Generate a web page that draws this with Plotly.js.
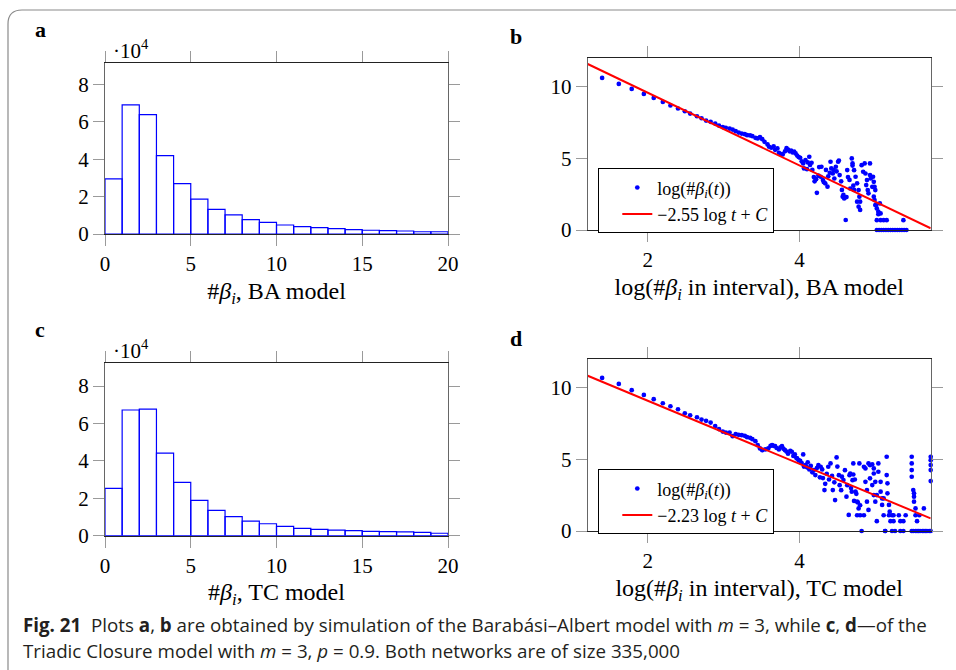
<!DOCTYPE html>
<html>
<head>
<meta charset="utf-8">
<script src="https://cdn.plot.ly/plotly-3.0.1.min.js"></script>
<style>
html,body{margin:0;padding:0;background:#fff;}
#chart{width:956px;height:670px;}
</style>
</head>
<body>
<div id="chart"></div>
<script>
// ---------- Data ----------
// Histogram bins (#beta_i values 0..19), counts in units of 10^4
const betaBins = [0,1,2,3,4,5,6,7,8,9,10,11,12,13,14,15,16,17,18,19];
const baCounts = [2.95,6.90,6.38,4.19,2.69,1.87,1.32,1.02,0.77,0.62,0.48,0.39,0.34,0.29,0.23,0.20,0.18,0.16,0.12,0.12];
const tcCounts = [2.53,6.72,6.77,4.42,2.85,1.89,1.35,1.02,0.78,0.64,0.50,0.39,0.34,0.30,0.27,0.23,0.22,0.20,0.18,0.13];

// Panel b: log(#beta_i in interval) vs log(#beta_i(t)), BA model
const baLogX = [
 1.40,1.62,1.79,1.95,2.08,2.20,2.30,2.40,2.49,2.56,2.65,2.71,2.77,2.83,2.89,2.94,2.99,3.03,3.08,3.12,
 3.16,3.20,3.24,3.28,3.31,3.35,3.38,3.42,3.45,3.48,3.51,3.54,3.58,
 3.60,3.63,3.66,3.68,3.71,3.73,3.76,3.78,3.81,3.83,3.85,3.87,3.89,3.91,3.93,3.95,3.97,3.99,
 4.01,4.03,4.05,4.06,4.08,4.10,4.11,4.13,4.14,4.16,4.17,4.19,4.20,4.22,4.23,4.25,4.26,4.28,4.29,
 4.31,4.32,4.34,4.35,4.37,4.38,4.40,4.41,4.42,4.44,4.45,4.46,4.48,4.49,4.51,4.52,4.53,4.55,4.56,
 4.57,4.58,4.59,4.61,4.62,4.63,4.64,4.66,4.67,4.69,4.70,4.71,4.72,
 4.70,4.72,4.74,4.76,4.78,4.76,4.78,4.80,4.80,4.79,4.82,4.86,4.84,4.87,4.88,4.89,4.90,4.91,4.93,4.93,
 4.94,4.96,4.97,4.98,4.99,5.00,4.98,4.99,5.00,5.01,5.02,5.04,5.04,5.06,5.07,
 5.02,5.07,5.11,5.15,5.37,
 5.02,5.05,5.08,5.11,5.14,5.17,5.20,5.23,5.26,5.29,5.32,5.35,5.38,5.41
];
const baLogY = [
 10.63,10.21,9.86,9.51,9.23,8.95,8.70,8.49,8.30,8.14,7.95,7.81,7.65,7.56,7.44,7.30,7.19,7.14,7.09,7.02,
 6.91,6.81,6.74,6.70,6.63,6.61,6.56,6.44,6.40,6.49,6.35,6.16,5.98,
 5.82,5.75,5.85,5.60,5.70,5.40,5.30,5.28,5.50,5.72,5.62,5.50,5.55,5.42,5.48,5.35,5.20,5.10,
 5.05,4.80,4.65,4.30,4.88,4.25,4.72,5.12,4.55,4.70,4.20,3.70,3.40,3.55,2.60,3.80,4.40,3.72,4.42,
 3.49,3.35,3.26,4.20,3.03,3.75,4.00,4.77,4.30,3.95,4.20,3.60,4.42,4.10,4.77,4.85,3.84,3.40,2.80,
 2.33,2.45,2.20,0.70,2.30,4.19,3.70,3.50,2.90,5.00,4.50,3.10,2.80,
 4.65,4.18,3.72,3.26,2.79,1.98,1.63,1.40,1.98,2.33,4.53,4.65,4.07,3.95,3.14,3.49,2.79,2.56,4.65,3.84,
 3.60,3.02,3.72,3.37,3.02,2.79,2.33,2.09,1.74,1.74,1.51,1.28,1.10,1.86,1.16,
 0.69,0.69,0.69,0.69,0.69,
 0,0,0,0,0,0,0,0,0,0,0,0,0,0
];
const baFitX = [1.21, 5.73];
const baFitY = [11.60, 0.12];

// Panel d: TC model
const tcLogX = [
 1.40,1.62,1.79,1.95,2.08,2.20,2.30,2.40,2.49,2.56,2.65,2.71,2.77,2.83,2.89,2.94,2.99,3.03,3.08,3.12,
 3.16,3.20,3.24,3.28,3.31,3.35,3.38,3.42,3.45,3.48,
 3.51,3.55,3.59,3.62,3.64,3.66,3.68,3.70,3.73,3.75,3.77,3.79,3.81,3.83,3.85,3.88,3.90,3.92,3.94,3.96,
 3.97,3.99,4.01,4.03,4.05,4.06,4.08,4.10,4.11,4.13,4.15,4.17,4.19,4.21,4.23,4.25,4.27,4.28,4.30,4.31,
 4.33,4.34,4.36,4.38,4.39,4.41,4.43,4.44,4.46,4.47,4.49,4.50,4.52,4.53,4.55,4.56,4.58,4.60,4.62,4.63,
 4.65,4.66,4.68,4.70,4.72,4.73,4.75,4.77,4.79,4.80,
 4.71,4.67,4.71,4.69,4.74,4.76,4.78,4.76,4.80,4.85,4.82,4.85,4.87,4.87,4.89,4.89,4.91,4.91,4.93,4.96,
 4.93,4.96,4.98,4.98,4.98,5.00,5.00,5.02,5.02,5.04,5.04,5.07,5.07,5.09,5.09,5.11,5.11,5.13,
 5.15,5.15,5.16,5.16,5.18,5.19,5.18,5.22,5.24,5.20,5.24,5.13,5.22,5.26,5.31,5.33,5.33,5.37,5.40,5.37,
 5.48,5.48,5.48,5.48,5.50,5.51,5.51,5.51,5.53,5.53,5.55,
 5.48,5.50,5.53,5.55,5.57,5.59,5.62,5.64,5.66,5.68,5.71,5.73,
 5.64,5.58,5.73,5.73,5.73,5.73,5.73
];
const tcLogY = [
 10.70,10.28,9.84,9.51,9.21,8.93,8.72,8.51,8.23,8.09,7.95,7.79,7.70,7.58,7.33,7.12,6.95,6.88,6.88,6.63,
 6.77,6.72,6.70,6.65,6.56,6.51,6.42,6.28,6.00,5.77,
 5.65,5.70,5.77,5.95,6.00,5.95,5.93,5.80,5.70,5.85,5.93,5.75,5.65,5.55,5.40,5.60,5.54,5.25,5.35,5.10,
 5.07,4.95,4.90,4.75,5.35,4.50,4.60,4.45,4.80,4.30,4.55,4.10,4.26,3.91,4.40,4.60,3.75,4.49,4.30,3.70,
 2.86,3.30,4.00,4.49,3.60,4.72,3.85,2.86,3.40,2.16,5.14,4.50,3.90,3.20,2.85,3.80,3.56,4.25,2.40,3.20,
 1.12,3.90,3.00,3.55,2.10,3.60,2.60,2.00,4.72,1.80,
 4.72,4.02,3.95,2.75,2.75,2.05,1.58,1.10,1.10,1.10,0,4.49,4.37,3.44,2.86,2.05,1.47,4.72,4.61,4.65,
 3.68,3.21,4.37,4.02,2.51,3.44,2.05,2.51,0.69,4.72,4.14,3.44,2.75,2.28,1.82,1.10,2.28,0,
 5.19,3.91,3.33,2.63,1.82,1.35,1.10,1.10,1.10,0.69,0.69,0,0,0,1.10,0.69,0,0,1.10,0.69,
 5.19,4.72,4.26,3.79,2.86,2.63,2.40,2.05,1.58,1.10,0.69,
 0,0,0,0,0,0,0,0,0,0,0,0,
 1.58,1.10,5.19,4.95,4.61,4.26,3.49
];
const tcFitX = [1.21, 5.73];
const tcFitY = [10.85, 0.88];

const legendDots = "log(#<i>β</i><sub><i>i</i></sub>(<i>t</i>))";
const baFitLabel = "−2.55 log <i>t</i> + <i>C</i>";
const tcFitLabel = "−2.23 log <i>t</i> + <i>C</i>";

// ---------- Styles ----------
const W = 956, H = 670;
const serif = "Liberation Serif, Times New Roman, serif";
const px = v => v / W;
const py = v => 1 - v / H;
const BLUE = "#0000ff", RED = "#ff0000";

function xAx(dom, range, ticks, title, standoff){
  return {
    domain: dom, range: range, tickmode: "array", tickvals: ticks,
    ticks: "outside", ticklen: 11, tickwidth: 1, tickcolor: "#9a9a9a",
    showline: true, linecolor: "#222", linewidth: 1, mirror: "ticks",
    showgrid: false, zeroline: false, fixedrange: true,
    tickfont: {family: serif, size: 21, color: "#000"},
    title: {text: title, font: {family: serif, size: 24, color: "#000"}, standoff: standoff}
  };
}
function yAx(dom, range, ticks, anchor){
  return {
    domain: dom, range: range, tickmode: "array", tickvals: ticks, anchor: anchor,
    ticks: "outside", ticklen: 11, tickwidth: 1, tickcolor: "#9a9a9a",
    showline: true, linecolor: "#666", linewidth: 1, mirror: "ticks",
    showgrid: false, zeroline: false, fixedrange: true,
    tickfont: {family: serif, size: 21, color: "#000"}
  };
}

const domAx = [px(105), px(448)];
const domBx = [px(587.7), px(930.7)];

const traces = [
  {type: "bar", x: betaBins, y: baCounts, offset: 0, width: 1, xaxis: "x", yaxis: "y",
   marker: {color: "rgba(255,255,255,0)", line: {color: BLUE, width: 1.2}}, showlegend: false},
  {type: "scatter", mode: "markers", x: baLogX, y: baLogY, xaxis: "x2", yaxis: "y2",
   marker: {color: BLUE, size: 4.7}, cliponaxis: false, name: legendDots, legend: "legend"},
  {type: "scatter", mode: "lines", x: baFitX, y: baFitY, xaxis: "x2", yaxis: "y2",
   line: {color: RED, width: 2}, name: baFitLabel, legend: "legend"},
  {type: "bar", x: betaBins, y: tcCounts, offset: 0, width: 1, xaxis: "x3", yaxis: "y3",
   marker: {color: "rgba(255,255,255,0)", line: {color: BLUE, width: 1.2}}, showlegend: false},
  {type: "scatter", mode: "markers", x: tcLogX, y: tcLogY, xaxis: "x4", yaxis: "y4",
   marker: {color: BLUE, size: 4.7}, cliponaxis: false, name: legendDots, legend: "legend2"},
  {type: "scatter", mode: "lines", x: tcFitX, y: tcFitY, xaxis: "x4", yaxis: "y4",
   line: {color: RED, width: 2}, name: tcFitLabel, legend: "legend2"}
];

const legendStyle = (yTop) => ({
  x: px(598.3), y: py(yTop), xanchor: "left", yanchor: "top",
  bgcolor: "#fff", bordercolor: "#000", borderwidth: 1,
  font: {family: serif, size: 18, color: "#000"}, indentation: 18,
  tracegroupgap: 0, traceorder: "normal"
});

const capFont = {family: "Open Sans, Noto Sans, sans-serif", size: 18.75, color: "#231f20"};
const labFont = {family: serif, size: 22, color: "#000"};
const ann = (text, x, y, font, xa) => ({
  text: text, x: px(x), y: py(y), xref: "paper", yref: "paper", showarrow: false,
  xanchor: xa || "center", yanchor: "middle", font: font
});

const layout = {
  width: W, height: H, autosize: false,
  margin: {l: 0, r: 0, t: 0, b: 0},
  paper_bgcolor: "#fff", plot_bgcolor: "#fff",
  bargap: 0,
  xaxis: Object.assign(xAx(domAx, [0, 20], [0,5,10,15,20], "#<i>β</i><sub><i>i</i></sub>, BA model", 6), {anchor: "y"}),
  yaxis: yAx([py(234), py(62.7)], [0, 9.16], [0,2,4,6,8], "x"),
  xaxis2: Object.assign(xAx(domBx, [1.21, 5.73], [2,4], "log(#<i>β</i><sub><i>i</i></sub> in interval), BA model", 6), {anchor: "y2"}),
  yaxis2: yAx([py(230), py(58.3)], [0, 12], [0,5,10], "x2"),
  xaxis3: Object.assign(xAx(domAx, [0, 20], [0,5,10,15,20], "#<i>β</i><sub><i>i</i></sub>, TC model", 6), {anchor: "y3"}),
  yaxis3: yAx([py(535.7), py(362.7)], [0, 9.25], [0,2,4,6,8], "x3"),
  xaxis4: Object.assign(xAx(domBx, [1.21, 5.73], [2,4], "log(#<i>β</i><sub><i>i</i></sub> in interval), TC model", 6), {anchor: "y4"}),
  yaxis4: yAx([py(531), py(359.3)], [0, 12], [0,5,10], "x4"),
  legend: legendStyle(168.3),
  legend2: legendStyle(469.3),
  shapes: [
    {type: "path", xref: "paper", yref: "paper", layer: "below",
     path: `M ${px(8)} ${py(670)} L ${px(8)} ${py(24)} Q ${px(8)} ${py(10)} ${px(22)} ${py(10)} L ${px(956)} ${py(10)}`,
     line: {color: "#8a8a8a", width: 1.2}}
  ],
  annotations: [
    ann("<b>a</b>", 40, 29, labFont),
    ann("<b>b</b>", 516, 37, labFont),
    ann("<b>c</b>", 40, 329, labFont),
    ann("<b>d</b>", 516, 338, labFont),
    ann("·10<sup>4</sup>", 111, 49, {family: serif, size: 21, color: "#000"}, "left"),
    ann("·10<sup>4</sup>", 111, 350, {family: serif, size: 21, color: "#000"}, "left"),
    ann("<b>Fig. 21</b>\u00a0\u00a0Plots <b>a</b>, <b>b</b> are obtained by simulation of the Barabási–Albert model with <i>m</i> = 3, while <b>c</b>, <b>d</b>—of the",
        21, 624, capFont, "left"),
    ann("Triadic Closure model with <i>m</i> = 3, <i>p</i> = 0.9. Both networks are of size 335,000",
        21, 650, capFont, "left")
  ]
};

Plotly.newPlot("chart", traces, layout, {staticPlot: true, displayModeBar: false});
</script>
</body>
</html>
